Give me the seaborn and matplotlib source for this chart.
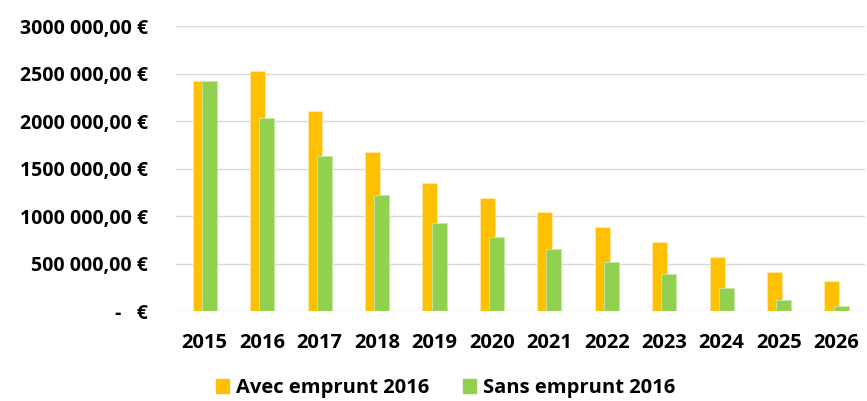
import pandas as pd
import matplotlib.pyplot as plt
import seaborn as sns
from matplotlib.patches import Patch

# data
years = ['2015', '2016', '2017', '2018', '2019', '2020', '2021', '2022', '2023', '2024', '2025', '2026']
avec_emprunt = [2420000, 2525000, 2105000, 1670000, 1350000, 1190000, 1040000, 880000, 730000, 570000, 410000, 320000]
sans_emprunt = [2420000, 2030000, 1630000, 1220000, 925000, 780000, 650000, 520000, 390000, 245000, 120000, 50000]
y_ticks = [0, 500000, 1000000, 1500000, 2000000, 2500000, 3000000]
y_labels = ['-   €', '500 000,00 €', '1000 000,00 €', '1500 000,00 €',
            '2000 000,00 €', '2500 000,00 €', '3000 000,00 €']

orange = '#FFC000'
green = '#92D050'

sns.set_style('white')
plt.rcParams['font.family'] = ['Open Sans', 'DejaVu Sans']
plt.rcParams['text.color'] = 'black'
plt.rcParams['xtick.color'] = 'black'
plt.rcParams['ytick.color'] = 'black'

df = pd.DataFrame({'Year': years, 'Avec': avec_emprunt, 'Sans': sans_emprunt})

fig = plt.figure(figsize=(8.67, 4.01), dpi=100)
ax = fig.add_axes([0.203, 0.2244, 0.795, 0.7106])

sns.barplot(data=df, x='Year', y='Avec', color=orange, width=0.26,
            saturation=1, edgecolor='#FFE9A8', linewidth=0.6, ax=ax)
n = len(ax.patches)
for p in ax.patches:
    p.set_x(p.get_x() - 0.08)
sns.barplot(data=df, x='Year', y='Sans', color=green, width=0.26,
            saturation=1, edgecolor='#C8E8A8', linewidth=0.6, ax=ax)
for p in ax.patches[n:]:
    p.set_x(p.get_x() + 0.08)

ax.set_xlim(-0.5, len(years) - 0.5)
ax.set_ylim(0, 3000000)
ax.set_yticks(y_ticks)
ax.set_yticklabels(y_labels, fontsize=14, fontweight='bold')
ax.tick_params(axis='x', labelsize=14.5, pad=16, length=0)
ax.tick_params(axis='y', pad=20, length=0)
for t in ax.get_xticklabels():
    t.set_fontweight('bold')
ax.set_xlabel('')
ax.set_ylabel('')
ax.yaxis.grid(True, color='#D9D9D9', linewidth=1)
ax.set_axisbelow(True)
sns.despine(ax=ax, left=True, bottom=True)

handles = [Patch(color=orange, label='Avec emprunt 2016'),
           Patch(color=green, label='Sans emprunt 2016')]
fig.legend(handles=handles, loc='center', bbox_to_anchor=(0.514, 0.032), ncol=2,
           frameon=False, prop={'weight': 'bold', 'size': 14.5},
           handlelength=0.65, handleheight=0.65, handletextpad=0.35, columnspacing=1.7)

fig.savefig('out.png', dpi=100)
